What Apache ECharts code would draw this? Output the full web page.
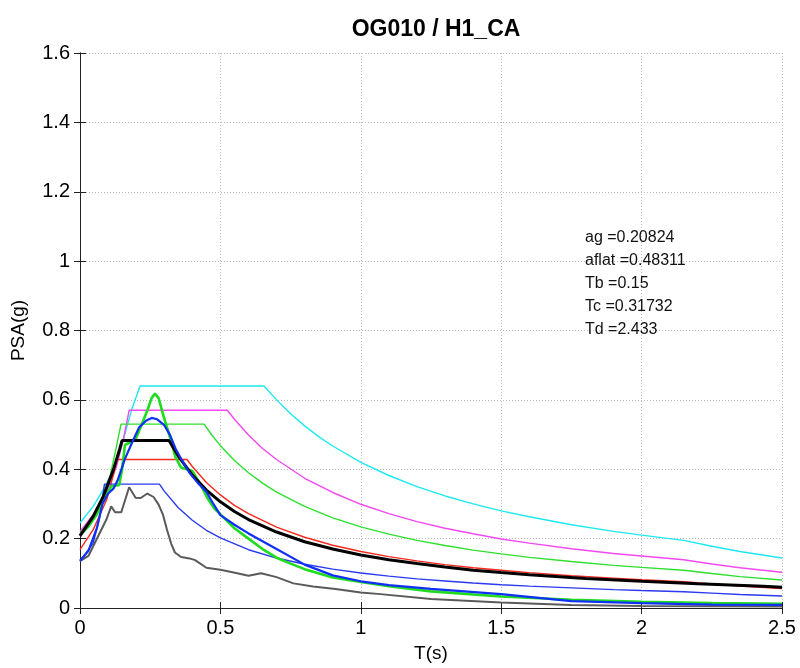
<!DOCTYPE html>
<html>
<head>
<meta charset="utf-8">
<script src="https://cdn.jsdelivr.net/npm/echarts@6/dist/echarts.min.js"></script>
<style>
  html, body { margin: 0; padding: 0; background: #fff; }
  #chart { width: 800px; height: 668px; }
</style>
</head>
<body>
<div id="chart"></div>
<script>
// Period axis ticks and PSA axis ticks
const xTicks = [0, 0.5, 1, 1.5, 2, 2.5];
const yTicks = [0, 0.2, 0.4, 0.6, 0.8, 1, 1.2, 1.4, 1.6];

// Design spectrum parameters shown in the plot
const paramLines = ['ag =0.20824', 'aflat =0.48311', 'Tb =0.15', 'Tc =0.31732', 'Td =2.433'];

// Envelope spectra [T (s), PSA (g)]
const cyanSpec = [[0,0.245],[0.047,0.293],[0.083,0.341],[0.119,0.399],[0.154,0.485],[0.184,0.572],[0.214,0.64],[0.655,0.64],[0.7,0.600],[0.75,0.560],[0.8,0.525],[0.85,0.494],[0.9,0.467],[1.0,0.420],[1.1,0.382],[1.2,0.350],[1.3,0.323],[1.4,0.300],[1.5,0.280],[1.6,0.263],[1.75,0.240],[1.9,0.221],[2.0,0.210],[2.15,0.195],[2.25,0.178],[2.35,0.163],[2.5,0.144]];
const magentaSpec = [[0,0.221],[0.047,0.269],[0.095,0.336],[0.13,0.408],[0.154,0.485],[0.175,0.57],[0.525,0.57],[0.55,0.544],[0.6,0.499],[0.65,0.460],[0.7,0.428],[0.8,0.374],[0.9,0.333],[1.0,0.299],[1.1,0.272],[1.2,0.249],[1.3,0.230],[1.4,0.214],[1.5,0.199],[1.6,0.187],[1.75,0.171],[1.9,0.157],[2.0,0.150],[2.15,0.139],[2.25,0.127],[2.35,0.116],[2.5,0.103]];
const limeSpec = [[0,0.215],[0.047,0.264],[0.083,0.315],[0.107,0.379],[0.13,0.466],[0.146,0.53],[0.442,0.53],[0.47,0.498],[0.5,0.468],[0.55,0.425],[0.6,0.390],[0.65,0.360],[0.7,0.334],[0.8,0.293],[0.9,0.260],[1.0,0.234],[1.1,0.213],[1.2,0.195],[1.3,0.180],[1.4,0.167],[1.5,0.156],[1.6,0.146],[1.75,0.134],[1.9,0.123],[2.0,0.117],[2.15,0.109],[2.25,0.0995],[2.35,0.0906],[2.5,0.0806]];
const redSpec = [[0,0.168],[0.047,0.226],[0.095,0.312],[0.119,0.384],[0.132,0.428],[0.381,0.428],[0.4,0.408],[0.45,0.362],[0.5,0.326],[0.55,0.296],[0.6,0.272],[0.7,0.233],[0.8,0.204],[0.9,0.181],[1.0,0.163],[1.1,0.148],[1.2,0.136],[1.3,0.125],[1.4,0.116],[1.5,0.109],[1.6,0.102],[1.75,0.093],[1.9,0.086],[2.0,0.0815],[2.15,0.0758],[2.25,0.0692],[2.35,0.0630],[2.5,0.0561]];
const blueSpec = [[0,0.134],[0.047,0.187],[0.071,0.264],[0.087,0.357],[0.283,0.357],[0.3,0.337],[0.35,0.289],[0.4,0.253],[0.45,0.224],[0.5,0.202],[0.6,0.168],[0.7,0.144],[0.8,0.126],[0.9,0.112],[1.0,0.101],[1.1,0.092],[1.2,0.084],[1.3,0.078],[1.4,0.072],[1.5,0.067],[1.6,0.063],[1.75,0.058],[1.9,0.053],[2.0,0.0505],[2.15,0.047],[2.25,0.0429],[2.35,0.0391],[2.5,0.0348]];

// Recorded response spectra
const recordGreen = [[0,0.21],[0.03,0.235],[0.06,0.27],[0.09,0.32],[0.11,0.35],[0.14,0.355],[0.15,0.40],[0.16,0.47],[0.185,0.48],[0.2,0.49],[0.22,0.53],[0.24,0.57],[0.255,0.605],[0.267,0.618],[0.28,0.605],[0.295,0.56],[0.31,0.52],[0.325,0.48],[0.34,0.435],[0.36,0.405],[0.38,0.40],[0.40,0.395],[0.43,0.355],[0.455,0.315],[0.48,0.285],[0.5,0.27],[0.55,0.23],[0.6,0.2],[0.65,0.17],[0.7,0.145],[0.75,0.128],[0.8,0.112],[0.9,0.088],[1.0,0.075],[1.1,0.063],[1.25,0.048],[1.5,0.033],[1.75,0.024],[2.0,0.018],[2.25,0.014],[2.5,0.012]];
const recordBlue = [[0,0.136],[0.03,0.165],[0.06,0.23],[0.08,0.3],[0.1,0.33],[0.12,0.345],[0.135,0.37],[0.16,0.43],[0.19,0.485],[0.21,0.52],[0.235,0.54],[0.255,0.548],[0.275,0.544],[0.3,0.527],[0.32,0.5],[0.34,0.46],[0.36,0.43],[0.39,0.39],[0.42,0.36],[0.45,0.335],[0.475,0.3],[0.5,0.268],[0.55,0.24],[0.6,0.215],[0.7,0.17],[0.8,0.125],[0.9,0.094],[1.0,0.077],[1.1,0.066],[1.25,0.055],[1.5,0.04],[1.75,0.02],[2.0,0.014],[2.25,0.01],[2.5,0.009]];
const recordGray = [[0,0.135],[0.03,0.15],[0.064,0.206],[0.094,0.255],[0.111,0.293],[0.125,0.276],[0.147,0.276],[0.175,0.348],[0.198,0.318],[0.216,0.317],[0.24,0.33],[0.262,0.32],[0.28,0.298],[0.295,0.27],[0.31,0.225],[0.325,0.185],[0.338,0.16],[0.36,0.147],[0.39,0.143],[0.41,0.138],[0.45,0.116],[0.5,0.11],[0.56,0.1],[0.6,0.093],[0.645,0.1],[0.7,0.089],[0.76,0.071],[0.83,0.062],[0.91,0.055],[1.0,0.045],[1.07,0.04],[1.25,0.026],[1.5,0.016],[1.75,0.009],[2.0,0.006],[2.25,0.005],[2.5,0.004]];

// Target design spectrum
const designSpec = [[0,0.208],[0.047,0.264],[0.083,0.322],[0.119,0.399],[0.142,0.46],[0.15,0.483],[0.317,0.483],[0.35,0.438],[0.4,0.383],[0.45,0.340],[0.5,0.306],[0.55,0.278],[0.6,0.255],[0.7,0.219],[0.8,0.191],[0.9,0.170],[1.0,0.153],[1.1,0.139],[1.2,0.128],[1.3,0.118],[1.4,0.109],[1.5,0.102],[1.6,0.096],[1.8,0.085],[2.0,0.077],[2.2,0.070],[2.433,0.063],[2.5,0.060]];

const FONT = 'Liberation Sans, Arial, Helvetica, sans-serif';

function line(data, color, width, z) {
  return {
    type: 'line', data: data, showSymbol: false, symbol: 'none',
    lineStyle: { color: color, width: width }, z: z, animation: false,
    xAxisIndex: 0, yAxisIndex: 0
  };
}

const chart = echarts.init(document.getElementById('chart'), null, { renderer: 'canvas' });

const dotted = { color: '#bdbdbd', width: 1, type: [1, 2] };
const frame = { color: '#222', width: 1 };

chart.setOption({
  backgroundColor: '#fff',
  animation: false,
  title: {
    text: 'OG010 / H1_CA',
    left: 431, top: 13, textAlign: 'center',
    textStyle: { fontFamily: FONT, fontWeight: 'bold', fontSize: 23, color: '#000' }
  },
  grid: { left: 80, right: 18, top: 53, bottom: 60, containLabel: false },
  xAxis: [{
    type: 'value', min: 0, max: 2.5, interval: 0.5, position: 'bottom',
    name: 'T(s)', nameLocation: 'middle', nameGap: 36,
    nameTextStyle: { fontFamily: FONT, fontSize: 19, color: '#000' },
    axisLine: { show: true, lineStyle: frame },
    axisTick: { show: true, inside: true, length: 6, lineStyle: frame },
    axisLabel: { fontFamily: FONT, fontSize: 20, color: '#000', margin: 10,
      formatter: v => (xTicks.indexOf(v) >= 0 ? String(v) : '') },
    splitLine: { show: true, lineStyle: dotted }
  }, {
    type: 'value', min: 0, max: 2.5, interval: 0.5, position: 'top',
    axisLine: { show: true, lineStyle: frame },
    axisTick: { show: true, inside: true, length: 6, lineStyle: frame },
    axisLabel: { show: false }, splitLine: { show: false }
  }],
  yAxis: [{
    type: 'value', min: 0, max: 1.6, interval: 0.2, position: 'left',
    name: 'PSA(g)', nameLocation: 'middle', nameGap: 52,
    nameTextStyle: { fontFamily: FONT, fontSize: 19, color: '#000' },
    axisLine: { show: true, lineStyle: frame },
    axisTick: { show: true, inside: true, length: 6, lineStyle: frame },
    axisLabel: { fontFamily: FONT, fontSize: 20, color: '#000', margin: 10,
      formatter: v => { const t = yTicks.find(k => Math.abs(k - v) < 1e-9); return t === undefined ? '' : String(t); } },
    splitLine: { show: true, lineStyle: dotted }
  }, {
    type: 'value', min: 0, max: 1.6, interval: 0.2, position: 'right',
    axisLine: { show: true, lineStyle: frame },
    axisTick: { show: true, inside: true, length: 6, lineStyle: frame },
    axisLabel: { show: false }, splitLine: { show: false }
  }],
  graphic: [{
    type: 'text', left: 585, top: 226, z: 100,
    style: {
      text: paramLines.join('\n'),
      font: '16px ' + FONT, fill: '#111', lineHeight: 23
    }
  }],
  series: [
    line(cyanSpec, '#1ee8f0', 1.4, 2),
    line(magentaSpec, '#f248f2', 1.4, 2),
    line(limeSpec, '#2ee02e', 1.4, 2),
    line(redSpec, '#f52a1e', 1.4, 2),
    line(blueSpec, '#2b3af0', 1.4, 2),
    line(recordGray, '#5a5a5a', 2, 3),
    line(recordGreen, '#1fdc1f', 2.6, 4),
    line(designSpec, '#000000', 3, 5),
    line(recordBlue, '#1030f5', 2.2, 6)
  ]
});
</script>
</body>
</html>
